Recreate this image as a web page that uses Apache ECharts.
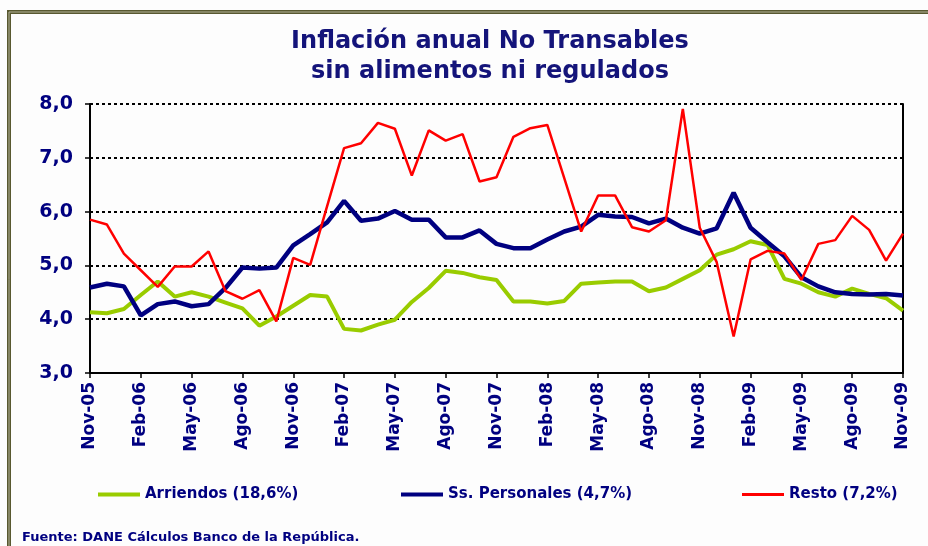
<!DOCTYPE html>
<html>
<head>
<meta charset="utf-8">
<script src="https://cdn.jsdelivr.net/npm/echarts@6.0.0/dist/echarts.min.js"></script>
<style>
  html, body { margin: 0; padding: 0; background: #fdfdfd; }
  #chart { width: 928px; height: 546px; }
</style>
</head>
<body>
<div id="chart"></div>
<script>
// meses Nov-05 .. Nov-09
const meses = [
  'Nov-05','Dic-05','Ene-06','Feb-06','Mar-06','Abr-06','May-06','Jun-06','Jul-06','Ago-06','Sep-06','Oct-06',
  'Nov-06','Dic-06','Ene-07','Feb-07','Mar-07','Abr-07','May-07','Jun-07','Jul-07','Ago-07','Sep-07','Oct-07',
  'Nov-07','Dic-07','Ene-08','Feb-08','Mar-08','Abr-08','May-08','Jun-08','Jul-08','Ago-08','Sep-08','Oct-08',
  'Nov-08','Dic-08','Ene-09','Feb-09','Mar-09','Abr-09','May-09','Jun-09','Jul-09','Ago-09','Sep-09','Oct-09',
  'Nov-09'
];

const arriendos = [
  4.13, 4.11, 4.19, 4.45, 4.70, 4.42, 4.50, 4.42, 4.31, 4.20, 3.88, 4.05,
  4.25, 4.45, 4.42, 3.82, 3.79, 3.90, 3.99, 4.32, 4.58, 4.90, 4.86, 4.78,
  4.73, 4.33, 4.33, 4.29, 4.34, 4.66, 4.68, 4.70, 4.70, 4.52, 4.59, 4.75,
  4.91, 5.20, 5.30, 5.45, 5.38, 4.75, 4.66, 4.50, 4.42, 4.57, 4.47, 4.39,
  4.16
];

const ssPersonales = [
  4.59, 4.66, 4.61, 4.07, 4.28, 4.33, 4.24, 4.28, 4.58, 4.96, 4.94, 4.96,
  5.37, 5.58, 5.80, 6.20, 5.83, 5.87, 6.01, 5.85, 5.85, 5.52, 5.52, 5.65,
  5.40, 5.32, 5.32, 5.48, 5.63, 5.72, 5.94, 5.91, 5.90, 5.78, 5.87, 5.70,
  5.59, 5.69, 6.35, 5.70, 5.43, 5.17, 4.78, 4.61, 4.50, 4.47, 4.46, 4.47,
  4.44
];

const resto = [
  5.85, 5.76, 5.22, 4.91, 4.60, 4.98, 4.98, 5.26, 4.52, 4.38, 4.54, 3.96,
  5.14, 5.01, 6.10, 7.18, 7.27, 7.65, 7.54, 6.67, 7.51, 7.32, 7.44, 6.56,
  6.64, 7.39, 7.55, 7.61, 6.62, 5.63, 6.30, 6.30, 5.71, 5.63, 5.84, 7.91,
  5.70, 5.06, 3.68, 5.11, 5.27, 5.22, 4.73, 5.40, 5.47, 5.92, 5.66, 5.09,
  5.59
];

const nombres = ['Arriendos (18,6%)', 'Ss. Personales (4,7%)', 'Resto (7,2%)'];

const azul = '#000080';
const fuente = '"DejaVu Sans", sans-serif';

const chart = echarts.init(document.getElementById('chart'));

function leyenda(nombre, x, h) {
  return {
    data: [nombre],
    left: x,
    top: 482,
    icon: 'rect',
    itemWidth: 42,
    itemHeight: h,
    itemGap: 0,
    textStyle: { color: azul, fontWeight: 'bold', fontSize: 15, fontFamily: fuente }
  };
}

const option = {
  animation: false,
  backgroundColor: '#fdfdfd',
  graphic: [
    { type: 'rect', shape: { x: 9, y: 12, width: 1000, height: 1000 }, style: { fill: 'none', stroke: '#585830', lineWidth: 4 } },
    { type: 'rect', shape: { x: 9, y: 12, width: 1000, height: 1000 }, style: { fill: 'none', stroke: '#b4b49a', lineWidth: 1 } },
    {
      type: 'text', x: 490, y: 27,
      style: {
        text: 'Inflación anual No Transables\nsin alimentos ni regulados',
        align: 'center', verticalAlign: 'top',
        fontSize: 24, fontWeight: 'bold', fontFamily: fuente, lineHeight: 30,
        fill: '#14147a'
      }
    },
    {
      type: 'text', x: 22, y: 531,
      style: {
        text: 'Fuente: DANE Cálculos Banco de la República.',
        fontSize: 13, fontWeight: 'bold', fontFamily: fuente, fill: azul
      }
    }
  ],
  legend: [
    leyenda(nombres[0], 93, 4),
    leyenda(nombres[1], 396, 4),
    leyenda(nombres[2], 737, 3)
  ],
  grid: { left: 90, right: 25, top: 104, bottom: 173 },
  xAxis: {
    type: 'category',
    data: meses,
    boundaryGap: false,
    axisLine: { lineStyle: { color: '#000', width: 2 } },
    axisTick: { interval: 2, length: 5, lineStyle: { color: '#000', width: 1.5 } },
    axisLabel: {
      interval: 2, rotate: 90, margin: 9,
      color: azul, fontWeight: 'bold', fontSize: 17, fontFamily: fuente
    },
    splitLine: { show: false }
  },
  yAxis: [
    {
      type: 'value', min: 3, max: 8, interval: 1,
      axisLine: { show: true, lineStyle: { color: '#000', width: 2 } },
      axisTick: { show: true, length: 5, lineStyle: { color: '#000', width: 1.5 } },
      axisLabel: {
        margin: 17, color: azul, fontWeight: 'bold', fontSize: 19, fontFamily: fuente,
        formatter: v => v.toFixed(1).replace('.', ',')
      },
      splitLine: { lineStyle: { color: '#000', width: 2, type: [3, 3] } }
    },
    {
      type: 'value', min: 3, max: 8, interval: 1, position: 'right',
      axisLine: { show: true, lineStyle: { color: '#000', width: 2 } },
      axisTick: { show: false }, axisLabel: { show: false }, splitLine: { show: false }
    }
  ],
  series: [
    { name: nombres[0], type: 'line', data: arriendos, symbol: 'none', color: '#99cc00', lineStyle: { width: 4, color: '#99cc00' } },
    { name: nombres[1], type: 'line', data: ssPersonales, symbol: 'none', color: '#000080', lineStyle: { width: 4.5, color: '#000080' } },
    { name: nombres[2], type: 'line', data: resto, symbol: 'none', color: '#ff0000', lineStyle: { width: 2.5, color: '#ff0000' } }
  ]
};

chart.setOption(option);
</script>
</body>
</html>
